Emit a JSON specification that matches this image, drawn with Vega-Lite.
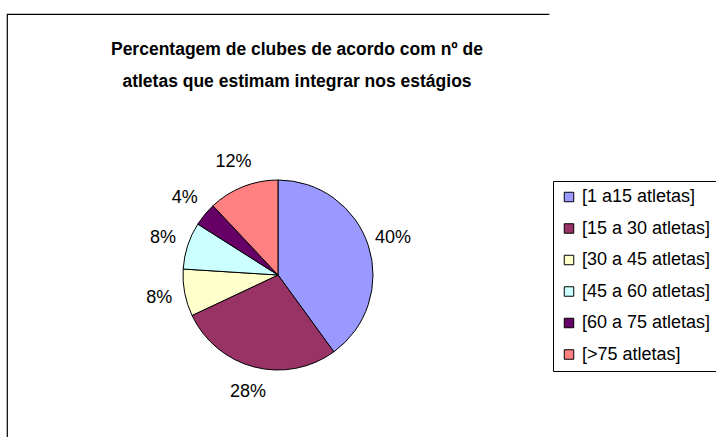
{
  "$schema": "https://vega.github.io/schema/vega-lite/v6.json",
  "autosize": "none",
  "padding": {"left": 7, "top": 14, "right": 167, "bottom": 0},
  "width": 542,
  "height": 522,
  "background": "white",
  "title": {
    "text": ["Percentagem de clubes de acordo com nº de", "atletas que estimam integrar nos estágios"],
    "font": "Liberation Sans",
    "fontSize": 17.5,
    "fontWeight": "bold",
    "color": "black",
    "anchor": "middle",
    "frame": "group",
    "lineHeight": 32,
    "baseline": "top",
    "offset": 0,
    "dy": 76,
    "dx": 19
  },
  "config": {
    "style": {
      "view": {"stroke": "black", "strokeWidth": 1.2, "strokeDash": [542, 1064, 600, 3000]},
      "cell": {"stroke": "black", "strokeWidth": 1.2, "strokeDash": [542, 1064, 600, 3000]}
    },
    "legend": {
      "orient": "none",
      "legendX": 546,
      "legendY": 167,
      "strokeColor": "black",
      "fillColor": "white",
      "padding": 7,
      "labelFont": "Liberation Sans",
      "labelFontSize": 18,
      "labelColor": "black",
      "symbolType": "square",
      "symbolSize": 90,
      "symbolStrokeColor": "black",
      "symbolStrokeWidth": 1,
      "symbolOpacity": 1,
      "rowPadding": 13.5,
      "labelOffset": 4,
      "labelLimit": 0
    }
  },
  "data": {
    "values": [
      {"category": "[1 a15 atletas]", "value": 0.40},
      {"category": "[15 a 30 atletas]", "value": 0.28},
      {"category": "[30 a 45 atletas]", "value": 0.08},
      {"category": "[45 a 60 atletas]", "value": 0.08},
      {"category": "[60 a 75 atletas]", "value": 0.04},
      {"category": "[>75 atletas]", "value": 0.12}
    ]
  },
  "layer": [
    {
      "mark": {"type": "arc", "outerRadius": 95, "stroke": "black", "strokeWidth": 1},
      "encoding": {
        "theta": {"field": "value", "type": "quantitative", "stack": true},
        "order": {"field": "category", "type": "nominal", "sort": "ascending"},
        "color": {
          "field": "category",
          "type": "nominal",
          "title": null,
          "scale": {
            "domain": ["[1 a15 atletas]", "[15 a 30 atletas]", "[30 a 45 atletas]", "[45 a 60 atletas]", "[60 a 75 atletas]", "[>75 atletas]"],
            "range": ["#9999FF", "#993366", "#FFFFCC", "#CCFFFF", "#660066", "#FF8080"]
          }
        }
      }
    },
    {
      "mark": {"type": "text", "radius": 121, "font": "Liberation Sans", "fontSize": 18, "fill": "black"},
      "encoding": {
        "theta": {"field": "value", "type": "quantitative", "stack": true},
        "order": {"field": "category", "type": "nominal", "sort": "ascending"},
        "detail": {"field": "category", "type": "nominal"},
        "text": {"field": "value", "type": "quantitative", "format": ".0%"}
      }
    }
  ]
}
